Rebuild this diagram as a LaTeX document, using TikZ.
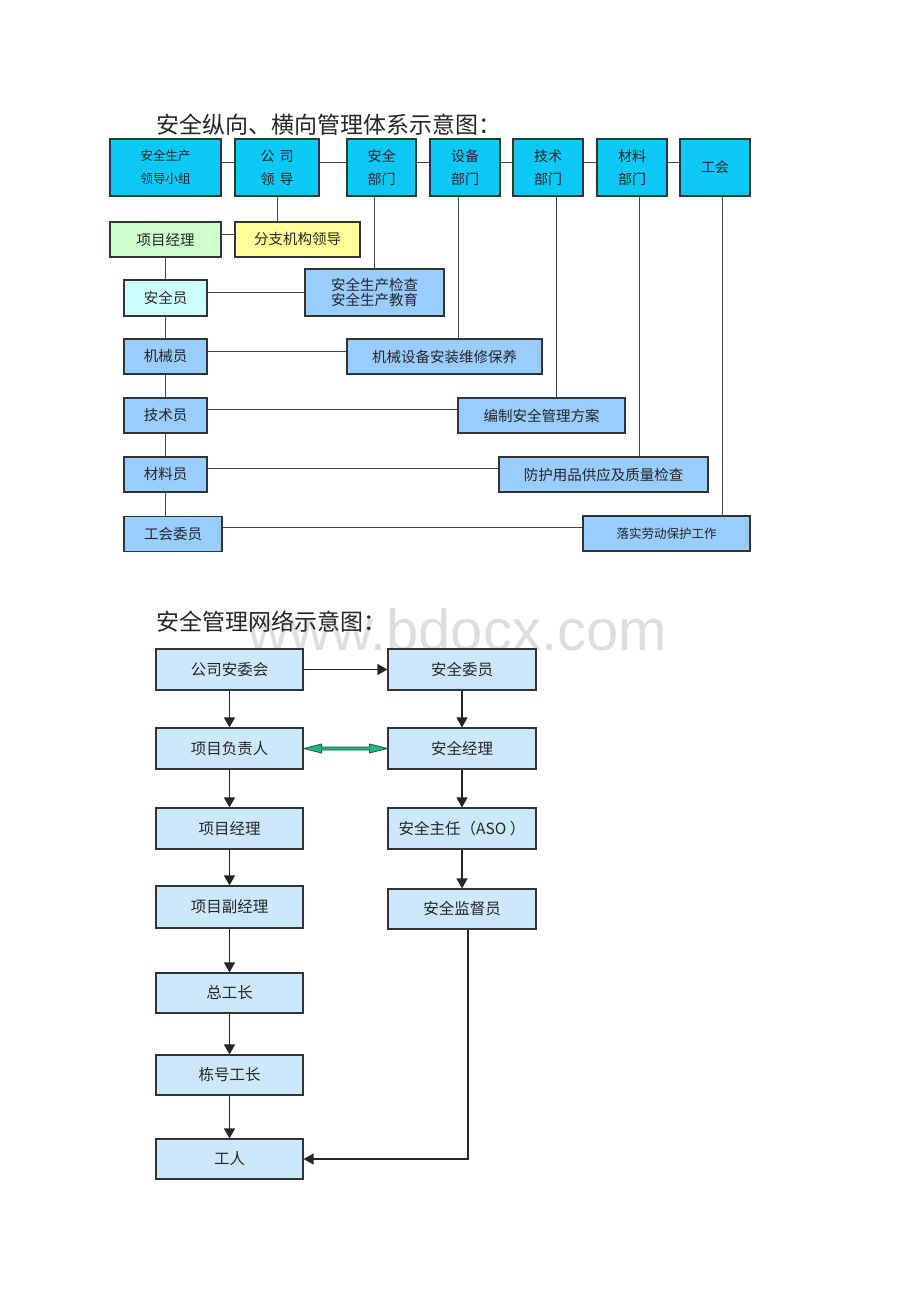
\documentclass[tikz,border=0pt]{standalone}
\usepackage{fontspec}
\newfontfamily\cjk{Noto Sans CJK SC}
\newfontfamily\wmfont{Liberation Sans}
\usetikzlibrary{calc,arrows.meta}
\definecolor{topcyan}{HTML}{0CC8F4}
\definecolor{lgreen}{HTML}{CCFFCC}
\definecolor{lyellow}{HTML}{FFFF99}
\definecolor{lcyan}{HTML}{CCFFFF}
\definecolor{midblue}{HTML}{99CCFF}
\definecolor{paleblue}{HTML}{CCE8FC}
\definecolor{boxline}{HTML}{333333}
\definecolor{linegray}{HTML}{454545}
\definecolor{arrgreen}{HTML}{22B47E}
\definecolor{arrgreenline}{HTML}{1B5E46}
\begin{document}
\begin{tikzpicture}[x=1pt,y=-1pt,
  base/.style={draw=boxline, line width=1.2pt, inner sep=0pt, align=center, text=black!85,
    font=\cjk\fontsize{14.5}{17}\selectfont},
  topbox/.style={base, fill=topcyan, minimum height=57pt, font=\cjk\fontsize{14}{23}\selectfont},
  bluebox/.style={base, fill=midblue, minimum height=35pt},
  netbox/.style={base, fill=paleblue, minimum width=147pt, minimum height=41pt,
    font=\cjk\fontsize{15.5}{18}\selectfont},
  link/.style={draw=linegray, line width=1pt},
  arr/.style={draw=black!85, line width=1.3pt, -{Triangle[length=10pt,width=11pt]}},
  ttl/.style={anchor=west, inner sep=0pt, text=black!85, font=\cjk\fontsize{23}{23}\selectfont}
]
\useasboundingbox (0,0) rectangle (920,1302);
\fill[white] (0,0) rectangle (920,1302);

% watermark
\node[anchor=base east, inner sep=0pt, text=black!13, font=\wmfont\fontsize{58}{58}\selectfont] (wm) at (667,650) {www.bdocx.com};

% ---------------- titles
\node[ttl] (t1) at (156,125) {安全纵向、横向管理体系示意图：};
\node[ttl] (t2) at (156,622) {安全管理网络示意图：};

% ---------------- top diagram
\node[topbox, minimum width=111pt, font=\cjk\fontsize{12.5}{23}\selectfont] (lead) at (165.5,167.5) {安全生产\\领导小组};
\node[topbox, minimum width=84pt] (gs) at (277,167.5) {公\hspace{5pt}司\\领\hspace{5pt}导};
\node[topbox, minimum width=69pt] (aq) at (381.5,167.5) {安全\\部门};
\node[topbox, minimum width=70pt] (sb) at (465,167.5) {设备\\部门};
\node[topbox, minimum width=70pt] (js) at (548,167.5) {技术\\部门};
\node[topbox, minimum width=70pt] (cl) at (632,167.5) {材料\\部门};
\node[topbox, minimum width=70pt] (gh) at (715,167.5) {工会};

\node[base, fill=lgreen, minimum width=111pt, minimum height=35pt] (xm) at (165.5,239.5) {项目经理};
\node[base, fill=lyellow, minimum width=125pt, minimum height=35pt] (fz) at (297.5,239.5) {分支机构领导};
\node[base, fill=lcyan, minimum width=83pt, minimum height=36pt] (aqy) at (165.5,298) {安全员};
\node[bluebox, minimum width=139pt, minimum height=47pt, font=\cjk\fontsize{14.5}{15}\selectfont] (jc) at (374.5,292.5) {安全生产检查\\安全生产教育};
\node[bluebox, minimum width=83pt] (jxy) at (165.5,356.5) {机械员};
\node[bluebox, minimum width=195pt] (jxsb) at (444.5,356.5) {机械设备安装维修保养};
\node[bluebox, minimum width=83pt] (jsy) at (165.5,415.5) {技术员};
\node[bluebox, minimum width=167pt] (bz) at (541.5,415.5) {编制安全管理方案};
\node[bluebox, minimum width=83pt] (cly) at (165.5,474.5) {材料员};
\node[bluebox, minimum width=209pt] (fh) at (603.5,474.5) {防护用品供应及质量检查};
\node[bluebox, minimum width=98pt] (ghwy) at (173,534) {工会委员};
\node[bluebox, minimum width=167pt, font=\cjk\fontsize{12.5}{15}\selectfont] (ls) at (666.5,533.5) {落实劳动保护工作};

% row 1 links
\draw[link] ([yshift=5.5pt]lead.east) -- ([yshift=5.5pt]gs.west);
\draw[link] ([yshift=5.5pt]gs.east) -- ([yshift=5.5pt]aq.west);
\draw[link] ([yshift=5.5pt]aq.east) -- ([yshift=5.5pt]sb.west);
\draw[link] ([yshift=5.5pt]sb.east) -- ([yshift=5.5pt]js.west);
\draw[link] ([yshift=5.5pt]js.east) -- ([yshift=5.5pt]cl.west);
\draw[link] ([yshift=5.5pt]cl.east) -- ([yshift=5.5pt]gh.west);

% verticals from departments
\draw[link] (gs.south) -- (gs.south |- fz.north);
\draw[link] (jc.north |- aq.south) -- (jc.north);
\draw[link] ([xshift=-7pt]sb.south) -- ([xshift=-7pt]sb.south |- jxsb.north);
\draw[link] ([xshift=8pt]js.south) -- ([xshift=8pt]js.south |- bz.north);
\draw[link] ([xshift=7pt]cl.south) -- ([xshift=7pt]cl.south |- fh.north);
\draw[link] ([xshift=7pt]gh.south) -- ([xshift=7pt]gh.south |- ls.north);

% left spine
\draw[link] ([yshift=5.5pt]xm.east) -- ([yshift=5.5pt]fz.west);
\draw[link] (xm.south) -- (aqy.north);
\draw[link] (aqy.south) -- (jxy.north);
\draw[link] (jxy.south) -- (jsy.north);
\draw[link] (jsy.south) -- (cly.north);
\draw[link] (cly.south) -- (cly.south |- ghwy.north);

% horizontal links
\draw[link] ([yshift=6pt]aqy.east) -- ([yshift=6pt]aqy.east -| jc.west);
\draw[link] ([yshift=5.5pt]jxy.east) -- ([yshift=5.5pt]jxy.east -| jxsb.west);
\draw[link] ([yshift=6.5pt]jsy.east) -- ([yshift=6.5pt]jsy.east -| bz.west);
\draw[link] ([yshift=6.5pt]cly.east) -- ([yshift=6.5pt]cly.east -| fh.west);
\draw[link] ([yshift=7pt]ghwy.east) -- ([yshift=7pt]ghwy.east -| ls.west);

% ---------------- bottom diagram
\node[netbox] (gsaw) at (229.5,669.5) {公司安委会};
\node[netbox, minimum width=148pt] (aqwy) at (462,669.5) {安全委员};
\node[netbox] (xmfz) at (229.5,748.5) {项目负责人};
\node[netbox, minimum width=148pt] (aqjl) at (462,748.5) {安全经理};
\node[netbox] (xmjl) at (229.5,828.5) {项目经理};
\node[netbox, minimum width=148pt] (aqzr) at (462,828.5) {安全主任（ASO ）};
\node[netbox, minimum height=42pt] (xmfjl) at (229.5,907) {项目副经理};
\node[netbox, minimum width=148pt, minimum height=40pt] (aqjdy) at (462,909) {安全监督员};
\node[netbox, minimum height=40pt] (zgz) at (229.5,993) {总工长};
\node[netbox, minimum height=40pt] (dhgz) at (229.5,1075) {栋号工长};
\node[netbox, minimum height=40pt] (gr) at (229.5,1159) {工人};

\draw[arr] (gsaw) -- (aqwy);
\draw[arr] (gsaw) -- (xmfz);
\draw[arr] (xmfz) -- (xmjl);
\draw[arr] (xmjl) -- (xmfjl);
\draw[arr] (xmfjl) -- (zgz);
\draw[arr] (zgz) -- (dhgz);
\draw[arr] (dhgz) -- (gr);
\draw[arr] (aqwy) -- (aqjl);
\draw[arr] (aqjl) -- (aqzr);
\draw[arr] (aqzr) -- (aqjdy);
\draw[arr] ([xshift=6pt]aqjdy.south) |- (gr.east);

% green double arrow
\filldraw[fill=arrgreen, draw=arrgreenline, line width=0.8pt]
  (xmfz.east) -- ($(xmfz.east)+(18,-4.5)$) -- ($(xmfz.east)+(18,-1.5)$)
  -- ($(aqjl.west)+(-18,-1.5)$) -- ($(aqjl.west)+(-18,-4.5)$) -- (aqjl.west)
  -- ($(aqjl.west)+(-18,4.5)$) -- ($(aqjl.west)+(-18,1.5)$)
  -- ($(xmfz.east)+(18,1.5)$) -- ($(xmfz.east)+(18,4.5)$) -- cycle;
\end{tikzpicture}
\end{document}
